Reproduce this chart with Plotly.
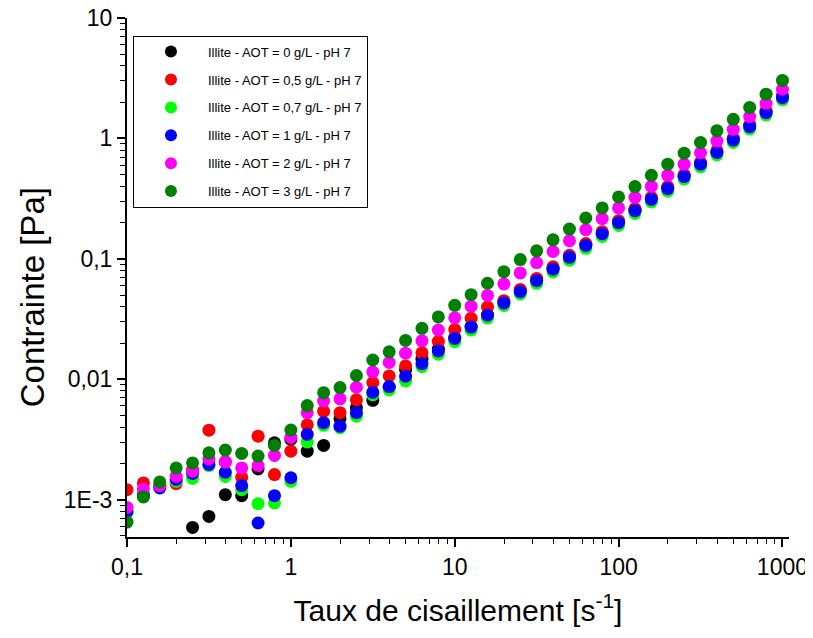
import plotly.graph_objects as go

shear_rate = [0.1, 0.1259, 0.1585, 0.1995, 0.2512, 0.3162, 0.3981, 0.5012, 0.631, 0.7943,
              1.0, 1.259, 1.585, 1.995, 2.512, 3.162, 3.981, 5.012, 6.31, 7.943,
              10.0, 12.59, 15.85, 19.95, 25.12, 31.62, 39.81, 50.12, 63.1, 79.43,
              100.0, 125.9, 158.5, 199.5, 251.2, 316.2, 398.1, 501.2, 631.0, 794.3, 1000.0]

aot_0 = [None, None, None, None, 5.88e-4, 7.26e-4, 1.10e-3, 1.08e-3, 1.80e-3, 2.97e-3,
         3.16e-3, 2.53e-3, 2.82e-3, 4.70e-3, 5.81e-3, 6.68e-3, 8.58e-3, 1.20e-2, 1.468e-2, 1.78e-2,
         2.22e-2, 2.74e-2, 3.41e-2, 4.38e-2, 5.41e-2, 6.68e-2, 8.33e-2, 0.104, 0.131, 0.163,
         0.2015, 0.2535, 0.316, 0.387, 0.487, 0.617, 0.772, 0.982, 1.266, 1.656, 2.21]

aot_05 = [1.21e-3, 1.377e-3, 1.31e-3, 1.36e-3, 1.78e-3, 3.78e-3, 2.07e-3, 1.53e-3, 3.37e-3, 1.615e-3,
          2.53e-3, 4.18e-3, 5.41e-3, 5.28e-3, 6.75e-3, 9.39e-3, 1.066e-2, 1.29e-2, 1.656e-2, 2.06e-2,
          2.59e-2, 3.21e-2, 3.98e-2, 4.49e-2, 5.57e-2, 6.88e-2, 8.58e-2, 0.107, 0.134, 0.168,
          0.2074, 0.261, 0.324, 0.398, 0.501, 0.634, 0.794, 1.006, 1.30, 1.70, 2.27]

aot_07 = [7.8e-4, 1.06e-3, 1.31e-3, 1.42e-3, 1.50e-3, 1.92e-3, 1.56e-3, 1.21e-3, 9.26e-4, 9.39e-4,
          1.42e-3, 3.01e-3, 4.14e-3, 3.96e-3, 4.94e-3, 7.43e-3, 8.17e-3, 9.68e-3, 1.27e-2, 1.615e-2,
          2.05e-2, 2.56e-2, 3.22e-2, 4.10e-2, 5.11e-2, 6.25e-2, 7.79e-2, 9.72e-2, 0.1223, 0.1535,
          0.1894, 0.2384, 0.2969, 0.364, 0.46, 0.581, 0.729, 0.927, 1.195, 1.563, 2.093]

aot_1 = [7.99e-4, 1.10e-3, 1.25e-3, 1.47e-3, 1.65e-3, 1.96e-3, 1.69e-3, 1.31e-3, 6.4e-4, 1.08e-3,
         1.52e-3, 3.48e-3, 4.36e-3, 4.08e-3, 5.28e-3, 7.79e-3, 8.69e-3, 1.059e-2, 1.346e-2, 1.72e-2,
         2.18e-2, 2.71e-2, 3.40e-2, 4.30e-2, 5.34e-2, 6.59e-2, 8.20e-2, 0.1029, 0.129, 0.1615,
         0.1995, 0.251, 0.312, 0.383, 0.482, 0.611, 0.764, 0.968, 1.252, 1.637, 2.18]

aot_2 = [8.63e-4, 1.227e-3, 1.31e-3, 1.563e-3, 1.72e-3, 2.18e-3, 2.05e-3, 1.836e-3, 1.92e-3, 2.33e-3,
         3.29e-3, 5.28e-3, 6.60e-3, 6.88e-3, 8.58e-3, 1.15e-2, 1.377e-2, 1.647e-2, 2.085e-2, 2.56e-2,
         3.24e-2, 4.04e-2, 4.97e-2, 6.19e-2, 7.64e-2, 9.31e-2, 0.1151, 0.1413, 0.1745, 0.2154,
         0.2646, 0.3243, 0.4004, 0.494, 0.611, 0.76, 0.95, 1.189, 1.517, 1.958, 2.56]

aot_3 = [6.52e-4, 1.053e-3, 1.404e-3, 1.836e-3, 2.02e-3, 2.45e-3, 2.58e-3, 2.42e-3, 2.30e-3, 2.82e-3,
         3.79e-3, 6.04e-3, 7.74e-3, 8.53e-3, 1.074e-2, 1.445e-2, 1.689e-2, 2.10e-2, 2.646e-2, 3.29e-2,
         4.11e-2, 5.04e-2, 6.27e-2, 7.83e-2, 9.86e-2, 0.1166, 0.1439, 0.1768, 0.2184, 0.2646,
         0.3268, 0.398, 0.494, 0.611, 0.754, 0.927, 1.159, 1.44, 1.81, 2.33, 3.03]

series_names = ["Illite - AOT = 0 g/L - pH 7", "Illite - AOT = 0,5 g/L - pH 7",
                "Illite - AOT = 0,7 g/L - pH 7", "Illite - AOT = 1 g/L - pH 7",
                "Illite - AOT = 2 g/L - pH 7", "Illite - AOT = 3 g/L - pH 7"]
series_values = [aot_0, aot_05, aot_07, aot_1, aot_2, aot_3]
series_colors = ["#000000", "#FF0000", "#00FF00", "#0000FF", "#FF00FF", "#008000"]

x_tickvals = [0.1, 1, 10, 100, 1000]
x_ticktext = ["0,1", "1", "10", "100", "1000"]
y_tickvals = [0.001, 0.01, 0.1, 1, 10]
y_ticktext = ["1E-3", "0,01", "0,1", "1", "10"]

x_minor = [m * 10.0 ** e for e in range(-1, 3) for m in range(2, 10)]
y_minor = [m * 10.0 ** e for e in range(-4, 1) for m in range(2, 10)]

FONT = "Liberation Sans, Arial, Helvetica, sans-serif"

fig = go.Figure()
for i, (name, vals, col) in enumerate(zip(series_names, series_values, series_colors)):
    fig.add_trace(go.Scatter(
        x=shear_rate, y=vals, mode="markers", name=name,
        legendgroup=f"g{i}",
        marker=dict(color=col, size=13, line=dict(width=0)),
    ))

# page body adds an 8px offset, so the figure is 8px smaller than the window
fig.update_layout(
    width=805, height=630,
    margin=dict(l=119, r=24, t=10, b=101),
    paper_bgcolor="white", plot_bgcolor="white",
    font=dict(family=FONT, color="black"),
    showlegend=True,
    legend=dict(
        x=0.009, y=0.966, xanchor="left", yanchor="top",
        bgcolor="white", bordercolor="black", borderwidth=1,
        font=dict(family=FONT, size=13, color="black"),
        tracegroupgap=8, itemsizing="constant", itemwidth=64,
    ),
    annotations=[dict(
        text="Contrainte [Pa]", textangle=-90, showarrow=False,
        xref="paper", yref="paper", x=-0.1435, y=0.462,
        xanchor="center", yanchor="middle",
        font=dict(size=33, family=FONT, color="black"),
    )],
)

fig.update_xaxes(
    type="log", range=[-1, 3.04],
    tickmode="array", tickvals=x_tickvals, ticktext=x_ticktext,
    ticks="outside", ticklen=8, tickwidth=1.5, tickcolor="black",
    showline=True, linecolor="black", linewidth=2, mirror=False,
    showgrid=False, zeroline=False, automargin=False,
    ticklabeloverflow="allow",
    tickfont=dict(size=23, family=FONT),
    minor=dict(tickmode="array", tickvals=x_minor, ticks="outside", ticklen=5,
               tickwidth=1.2, tickcolor="black", showgrid=False),
    title=dict(text="Taux de cisaillement [s<sup>-1</sup>]", font=dict(size=30, family=FONT), standoff=21),
)
fig.update_yaxes(
    type="log", range=[-3.31, 1.0],
    tickmode="array", tickvals=y_tickvals, ticktext=y_ticktext,
    ticks="outside", ticklen=8, tickwidth=1.5, tickcolor="black",
    showline=True, linecolor="black", linewidth=2, mirror=False,
    showgrid=False, zeroline=False, automargin=False,
    ticklabeloverflow="allow",
    tickfont=dict(size=23, family=FONT),
    minor=dict(tickmode="array", tickvals=y_minor, ticks="outside", ticklen=5,
               tickwidth=1.2, tickcolor="black", showgrid=False),
)

fig.write_html("out.html")
